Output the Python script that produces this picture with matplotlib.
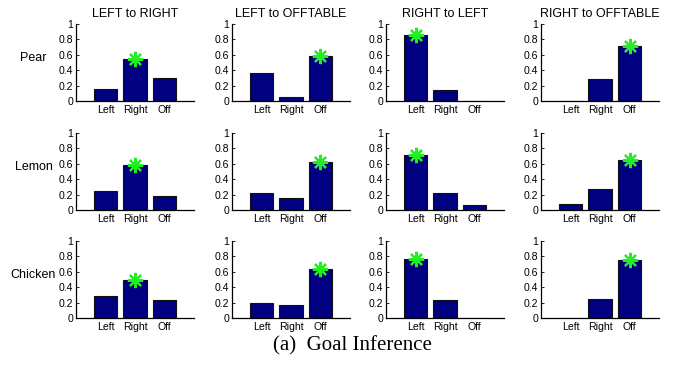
import numpy as np
import matplotlib
matplotlib.use("Agg")
import matplotlib.pyplot as plt

plt.rcParams['font.family'] = ['Liberation Sans', 'DejaVu Sans']

# goals shown under each bar
goals = ["Left", "Right", "Off"]
# columns: demonstrated actions
actions = ["LEFT to RIGHT", "LEFT to OFFTABLE", "RIGHT to LEFT", "RIGHT to OFFTABLE"]
# rows: objects
objects = ["Pear", "Lemon", "Chicken"]

# inferred goal probabilities (Left, Right, Off) per object / action
pear = [[0.15, 0.55, 0.30],
        [0.36, 0.05, 0.59],
        [0.86, 0.14, 0.002],
        [0.002, 0.29, 0.71]]
lemon = [[0.25, 0.58, 0.18],
         [0.22, 0.16, 0.62],
         [0.72, 0.22, 0.06],
         [0.08, 0.27, 0.65]]
chicken = [[0.28, 0.49, 0.24],
           [0.20, 0.17, 0.63],
           [0.77, 0.23, 0.002],
           [0.002, 0.25, 0.75]]
# index of the true goal (marked with a star) per action
true_goal = [1, 2, 0, 2]

probs = [pear, lemon, chicken]

fig = plt.figure(figsize=(6.73, 3.68), dpi=100)

col_left = [76, 232, 386, 541]
row_bottom = [101, 210, 318]
W, H = 673.0, 368.0
ax_w, ax_h = 118, 77

x = np.arange(1, 4)
for r, obj in enumerate(objects):
    for c, act in enumerate(actions):
        ax = fig.add_axes([col_left[c] / W, 1 - row_bottom[r] / H, ax_w / W, ax_h / H])
        vals = probs[r][c]
        ax.bar(x, vals, width=0.8, color="#000080", edgecolor="#111111", linewidth=0.8)
        g = true_goal[c]
        ax.plot(x[g], vals[g], marker=(8, 2, 0), color="#22ee22",
                markersize=11, markeredgewidth=1.6, zorder=5)
        ax.set_xlim(0, 4)
        ax.set_ylim(0, 1)
        ax.set_xticks(x)
        ax.set_xticklabels(goals)
        ax.set_yticks([0, 0.2, 0.4, 0.6, 0.8, 1])
        ax.set_yticklabels(["0", "0.2", "0.4", "0.6", "0.8", "1"])
        ax.tick_params(labelsize=7.6, direction="in", length=2, width=0.6, pad=2)
        ax.tick_params(axis="x", length=0, pad=3)
        for s in ["top", "right"]:
            ax.spines[s].set_visible(False)
        for s in ["left", "bottom"]:
            ax.spines[s].set_linewidth(0.9)
        if r == 0:
            ax.set_title(act, fontsize=9, pad=5)
        if c == 0:
            ax.text(-0.36, 0.56, obj, transform=ax.transAxes, fontsize=9,
                    ha="center", va="center")

fig.text(352 / W, 1 - 346 / H, "(a)  Goal Inference", family="Liberation Serif",
         fontsize=15, ha="center", va="center")

fig.savefig("out.png", dpi=100)
